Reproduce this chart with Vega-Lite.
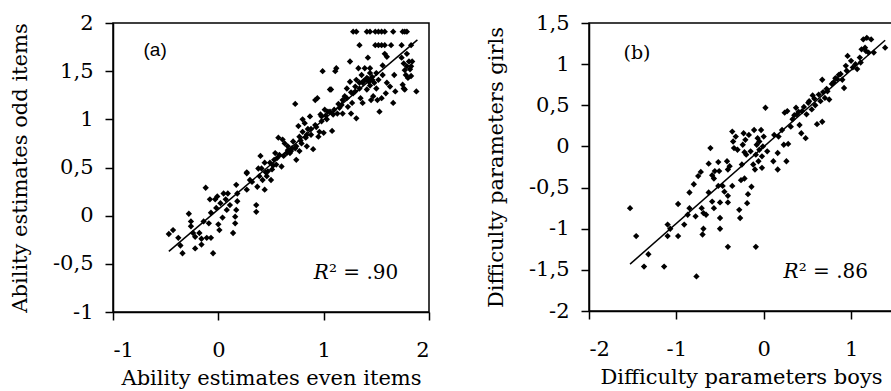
{
  "$schema": "https://vega.github.io/schema/vega-lite/v6.json",
  "padding": {"left": 8, "top": 11, "right": 0, "bottom": 0},
  "spacing": 53,
  "config": {
    "view": {"stroke": "black", "strokeWidth": 1.5},
    "font": "DejaVu Serif",
    "axis": {
      "grid": false,
      "domainColor": "black",
      "domainWidth": 1.5,
      "tickColor": "black",
      "tickWidth": 1.5,
      "tickSize": 8,
      "labelFont": "DejaVu Serif",
      "labelFontSize": 21,
      "labelColor": "black",
      "titleFont": "DejaVu Serif",
      "titleFontSize": 21,
      "titleFontWeight": "normal",
      "titleColor": "black",
      "labelExpr": "replace(toString(datum.value), '.', ',')"
    },
    "axisX": {"labelPadding": 19, "titlePadding": 7},
    "axisY": {"labelPadding": 12, "titlePadding": 22}
  },
  "datasets": {
    "a": [
      {"x": -0.47, "y": -0.19}, {"x": -0.43, "y": -0.15}, {"x": -0.38, "y": -0.23}, {"x": -0.36, "y": -0.31}, {"x": -0.34, "y": -0.39},
      {"x": -0.28, "y": 0.02}, {"x": -0.26, "y": -0.06}, {"x": -0.26, "y": -0.11}, {"x": -0.24, "y": -0.18}, {"x": -0.22, "y": -0.22},
      {"x": -0.22, "y": -0.34}, {"x": -0.18, "y": -0.18}, {"x": -0.16, "y": -0.30}, {"x": -0.16, "y": -0.24}, {"x": -0.14, "y": -0.06},
      {"x": -0.12, "y": 0.29}, {"x": -0.11, "y": -0.23}, {"x": -0.09, "y": -0.08}, {"x": -0.08, "y": 0.17}, {"x": -0.07, "y": 0.03},
      {"x": -0.07, "y": -0.23}, {"x": -0.05, "y": -0.39}, {"x": -0.03, "y": 0.17}, {"x": -0.02, "y": 0.08}, {"x": -0.01, "y": 0.20},
      {"x": 0.00, "y": -0.09}, {"x": 0.01, "y": -0.15}, {"x": 0.02, "y": 0.13}, {"x": 0.04, "y": -0.02}, {"x": 0.05, "y": 0.23},
      {"x": 0.07, "y": 0.17}, {"x": 0.08, "y": 0.06}, {"x": 0.09, "y": 0.23}, {"x": 0.11, "y": 0.11}, {"x": 0.14, "y": -0.18},
      {"x": 0.16, "y": -0.08}, {"x": 0.16, "y": -0.01}, {"x": 0.17, "y": 0.06}, {"x": 0.17, "y": 0.32}, {"x": 0.18, "y": 0.15},
      {"x": 0.18, "y": 0.23}, {"x": 0.27, "y": 0.27}, {"x": 0.27, "y": 0.45}, {"x": 0.27, "y": 0.44}, {"x": 0.30, "y": 0.37},
      {"x": 0.32, "y": 0.35}, {"x": 0.36, "y": 0.11}, {"x": 0.36, "y": 0.04}, {"x": 0.37, "y": 0.30}, {"x": 0.38, "y": 0.49},
      {"x": 0.39, "y": 0.41}, {"x": 0.40, "y": 0.62}, {"x": 0.41, "y": 0.49}, {"x": 0.42, "y": 0.37}, {"x": 0.44, "y": 0.27},
      {"x": 0.44, "y": 0.55}, {"x": 0.46, "y": 0.41}, {"x": 0.47, "y": 0.46}, {"x": 0.49, "y": 0.55}, {"x": 0.50, "y": 0.37},
      {"x": 0.51, "y": 0.48}, {"x": 0.53, "y": 0.58}, {"x": 0.54, "y": 0.65}, {"x": 0.55, "y": 0.53}, {"x": 0.57, "y": 0.81},
      {"x": 0.58, "y": 0.63}, {"x": 0.60, "y": 0.51}, {"x": 0.61, "y": 0.79}, {"x": 0.63, "y": 0.75}, {"x": 0.65, "y": 0.65},
      {"x": 0.66, "y": 0.72}, {"x": 0.68, "y": 0.65}, {"x": 0.69, "y": 0.67}, {"x": 0.71, "y": 0.77}, {"x": 0.73, "y": 1.16},
      {"x": 0.73, "y": 0.70}, {"x": 0.74, "y": 0.58}, {"x": 0.76, "y": 0.93}, {"x": 0.77, "y": 0.82}, {"x": 0.77, "y": 0.67},
      {"x": 0.79, "y": 0.75}, {"x": 0.80, "y": 1.00}, {"x": 0.80, "y": 0.87}, {"x": 0.82, "y": 0.96}, {"x": 0.83, "y": 0.81},
      {"x": 0.84, "y": 0.72}, {"x": 0.85, "y": 0.90}, {"x": 0.87, "y": 1.03}, {"x": 0.88, "y": 0.84}, {"x": 0.90, "y": 0.69},
      {"x": 0.92, "y": 1.20}, {"x": 0.92, "y": 0.94}, {"x": 0.94, "y": 1.22}, {"x": 0.95, "y": 0.82}, {"x": 0.96, "y": 0.87},
      {"x": 0.97, "y": 1.05}, {"x": 0.98, "y": 0.98}, {"x": 0.99, "y": 1.50}, {"x": 1.00, "y": 0.86}, {"x": 1.01, "y": 1.10},
      {"x": 1.03, "y": 1.00}, {"x": 1.04, "y": 1.08}, {"x": 1.06, "y": 1.31}, {"x": 1.07, "y": 1.31}, {"x": 1.08, "y": 0.88},
      {"x": 1.09, "y": 1.05}, {"x": 1.11, "y": 1.50}, {"x": 1.12, "y": 1.53}, {"x": 1.13, "y": 1.06}, {"x": 1.15, "y": 1.12},
      {"x": 1.17, "y": 1.15}, {"x": 1.18, "y": 1.06}, {"x": 1.20, "y": 1.24}, {"x": 1.22, "y": 1.32}, {"x": 1.23, "y": 1.13},
      {"x": 1.25, "y": 1.60}, {"x": 1.25, "y": 1.39}, {"x": 1.26, "y": 1.06}, {"x": 1.27, "y": 1.17}, {"x": 1.28, "y": 1.27},
      {"x": 1.30, "y": 1.29}, {"x": 1.31, "y": 1.41}, {"x": 1.31, "y": 1.01}, {"x": 1.33, "y": 1.53}, {"x": 1.34, "y": 1.32},
      {"x": 1.35, "y": 1.22}, {"x": 1.36, "y": 1.46}, {"x": 1.37, "y": 1.38}, {"x": 1.37, "y": 1.17}, {"x": 1.39, "y": 1.53},
      {"x": 1.40, "y": 1.41}, {"x": 1.41, "y": 1.31}, {"x": 1.41, "y": 1.43}, {"x": 1.42, "y": 1.64}, {"x": 1.43, "y": 1.39},
      {"x": 1.44, "y": 1.48}, {"x": 1.44, "y": 1.53}, {"x": 1.45, "y": 1.20}, {"x": 1.46, "y": 1.41}, {"x": 1.47, "y": 1.24},
      {"x": 1.50, "y": 1.48}, {"x": 1.50, "y": 1.32}, {"x": 1.51, "y": 1.20}, {"x": 1.52, "y": 1.41}, {"x": 1.53, "y": 1.08},
      {"x": 1.55, "y": 1.22}, {"x": 1.56, "y": 1.56}, {"x": 1.56, "y": 1.46}, {"x": 1.58, "y": 1.68}, {"x": 1.59, "y": 1.27},
      {"x": 1.60, "y": 1.38}, {"x": 1.60, "y": 1.65}, {"x": 1.63, "y": 1.34}, {"x": 1.66, "y": 1.17}, {"x": 1.67, "y": 1.46},
      {"x": 1.68, "y": 1.29}, {"x": 1.74, "y": 1.64}, {"x": 1.76, "y": 1.58}, {"x": 1.75, "y": 1.36}, {"x": 1.76, "y": 1.32},
      {"x": 1.77, "y": 1.31}, {"x": 1.77, "y": 1.51}, {"x": 1.78, "y": 1.46}, {"x": 1.79, "y": 1.68}, {"x": 1.79, "y": 1.55},
      {"x": 1.80, "y": 1.43}, {"x": 1.81, "y": 1.60}, {"x": 1.82, "y": 1.52}, {"x": 1.83, "y": 1.55}, {"x": 1.83, "y": 1.45},
      {"x": 1.84, "y": 1.60}, {"x": 1.88, "y": 1.29},
      {"x": 1.28, "y": 1.91}, {"x": 1.31, "y": 1.91}, {"x": 1.41, "y": 1.91}, {"x": 1.44, "y": 1.91}, {"x": 1.49, "y": 1.91},
      {"x": 1.52, "y": 1.91}, {"x": 1.55, "y": 1.91}, {"x": 1.58, "y": 1.91}, {"x": 1.66, "y": 1.91}, {"x": 1.75, "y": 1.91},
      {"x": 1.77, "y": 1.91}, {"x": 1.79, "y": 1.91},
      {"x": 1.34, "y": 1.77}, {"x": 1.49, "y": 1.77}, {"x": 1.52, "y": 1.77}, {"x": 1.55, "y": 1.77}, {"x": 1.58, "y": 1.77},
      {"x": 1.64, "y": 1.77}, {"x": 1.74, "y": 1.77}, {"x": 1.83, "y": 1.77},
      {"x": 0.45, "y": 0.45}, {"x": 0.52, "y": 0.52}, {"x": 0.56, "y": 0.60}, {"x": 0.62, "y": 0.62}, {"x": 0.66, "y": 0.68},
      {"x": 0.70, "y": 0.70}, {"x": 0.74, "y": 0.72}, {"x": 0.78, "y": 0.78}, {"x": 0.84, "y": 0.84}, {"x": 0.88, "y": 0.90},
      {"x": 0.93, "y": 0.92}, {"x": 0.98, "y": 1.03}, {"x": 1.02, "y": 1.04}, {"x": 1.06, "y": 1.08}, {"x": 1.10, "y": 1.10},
      {"x": 1.14, "y": 1.16}, {"x": 1.18, "y": 1.20}, {"x": 1.22, "y": 1.22}, {"x": 1.26, "y": 1.28}, {"x": 1.30, "y": 1.34},
      {"x": 1.34, "y": 1.38}, {"x": 1.38, "y": 1.40}, {"x": 1.42, "y": 1.42}, {"x": 1.46, "y": 1.44}, {"x": 1.48, "y": 1.38},
      {"x": 1.44, "y": 1.35}
    ],
    "aline": [{"x": -0.47, "y": -0.37}, {"x": 1.89, "y": 1.825}],
    "b": [
      {"x": -1.53, "y": -0.75}, {"x": -1.46, "y": -1.09}, {"x": -1.32, "y": -1.31}, {"x": -1.37, "y": -1.46}, {"x": -1.14, "y": -1.46},
      {"x": -1.10, "y": -0.95}, {"x": -1.10, "y": -1.09}, {"x": -1.07, "y": -1.00}, {"x": -0.98, "y": -0.70}, {"x": -0.98, "y": -1.09},
      {"x": -0.91, "y": -0.95}, {"x": -0.87, "y": -0.83}, {"x": -0.85, "y": -0.75}, {"x": -0.85, "y": -0.56}, {"x": -0.80, "y": -0.46},
      {"x": -0.78, "y": -0.85}, {"x": -0.77, "y": -1.58}, {"x": -0.75, "y": -0.36}, {"x": -0.72, "y": -0.31}, {"x": -0.71, "y": -0.75},
      {"x": -0.69, "y": -0.81}, {"x": -0.69, "y": -1.00}, {"x": -0.70, "y": -1.07}, {"x": -0.66, "y": -0.83}, {"x": -0.63, "y": -0.21},
      {"x": -0.63, "y": -0.56}, {"x": -0.61, "y": -0.02}, {"x": -0.59, "y": -0.67}, {"x": -0.59, "y": -0.35}, {"x": -0.57, "y": -0.39},
      {"x": -0.57, "y": -0.75}, {"x": -0.56, "y": -0.30}, {"x": -0.52, "y": -0.19}, {"x": -0.52, "y": -0.48}, {"x": -0.51, "y": -0.30},
      {"x": -0.50, "y": -0.87}, {"x": -0.50, "y": -1.00}, {"x": -0.50, "y": -0.68}, {"x": -0.47, "y": -0.48}, {"x": -0.45, "y": -0.55},
      {"x": -0.42, "y": -0.18}, {"x": -0.41, "y": -0.28}, {"x": -0.41, "y": -0.60}, {"x": -0.41, "y": -1.22}, {"x": -0.41, "y": -0.68},
      {"x": -0.39, "y": -0.24}, {"x": -0.36, "y": -0.48}, {"x": -0.36, "y": 0.18}, {"x": -0.35, "y": 0.06}, {"x": -0.34, "y": -0.02},
      {"x": -0.32, "y": 0.12}, {"x": -0.30, "y": -0.04}, {"x": -0.28, "y": -0.77}, {"x": -0.27, "y": -0.87}, {"x": -0.26, "y": -0.41},
      {"x": -0.25, "y": -0.22}, {"x": -0.24, "y": 0.02}, {"x": -0.23, "y": 0.16}, {"x": -0.22, "y": -0.07}, {"x": -0.22, "y": -0.39},
      {"x": -0.21, "y": 0.08}, {"x": -0.20, "y": -0.10}, {"x": -0.19, "y": -0.69}, {"x": -0.18, "y": -0.58}, {"x": -0.17, "y": 0.14},
      {"x": -0.15, "y": -0.06}, {"x": -0.14, "y": -0.49}, {"x": -0.12, "y": -0.22}, {"x": -0.11, "y": 0.20}, {"x": -0.10, "y": -0.28},
      {"x": -0.09, "y": -1.22}, {"x": -0.09, "y": -0.10}, {"x": -0.08, "y": 0.02}, {"x": -0.07, "y": 0.10}, {"x": -0.06, "y": -0.18},
      {"x": -0.05, "y": -0.04}, {"x": -0.05, "y": 0.06}, {"x": -0.03, "y": 0.20}, {"x": -0.02, "y": -0.26}, {"x": -0.02, "y": -0.12},
      {"x": -0.01, "y": 0.00}, {"x": 0.00, "y": 0.12}, {"x": 0.02, "y": 0.47}, {"x": 0.04, "y": -0.06}, {"x": 0.11, "y": -0.18},
      {"x": 0.12, "y": 0.14}, {"x": 0.16, "y": -0.08}, {"x": 0.16, "y": -0.28}, {"x": 0.17, "y": 0.12}, {"x": 0.21, "y": 0.20},
      {"x": 0.23, "y": 0.02}, {"x": 0.24, "y": 0.41}, {"x": 0.26, "y": -0.18}, {"x": 0.27, "y": 0.43}, {"x": 0.28, "y": 0.03},
      {"x": 0.31, "y": 0.24}, {"x": 0.33, "y": 0.33}, {"x": 0.37, "y": 0.47}, {"x": 0.38, "y": 0.39}, {"x": 0.41, "y": 0.26},
      {"x": 0.43, "y": 0.16}, {"x": 0.44, "y": 0.43}, {"x": 0.48, "y": 0.10}, {"x": 0.49, "y": 0.39}, {"x": 0.51, "y": 0.53},
      {"x": 0.55, "y": 0.45}, {"x": 0.56, "y": 0.62}, {"x": 0.59, "y": 0.50}, {"x": 0.61, "y": 0.27}, {"x": 0.65, "y": 0.55},
      {"x": 0.67, "y": 0.81}, {"x": 0.67, "y": 0.30}, {"x": 0.70, "y": 0.59}, {"x": 0.73, "y": 0.67}, {"x": 0.75, "y": 0.57},
      {"x": 0.78, "y": 0.76}, {"x": 0.82, "y": 0.83}, {"x": 0.86, "y": 0.87}, {"x": 0.90, "y": 0.81}, {"x": 0.92, "y": 0.71},
      {"x": 0.94, "y": 0.98}, {"x": 0.96, "y": 1.10}, {"x": 1.00, "y": 1.04}, {"x": 1.02, "y": 0.96}, {"x": 1.07, "y": 0.94},
      {"x": 1.11, "y": 1.02}, {"x": 1.12, "y": 1.18}, {"x": 1.14, "y": 1.30}, {"x": 1.16, "y": 1.20}, {"x": 1.18, "y": 1.32},
      {"x": 1.20, "y": 1.14}, {"x": 1.23, "y": 1.30}, {"x": 1.26, "y": 1.14}, {"x": 1.39, "y": 1.20},
      {"x": 0.35, "y": 0.38}, {"x": 0.40, "y": 0.42}, {"x": 0.46, "y": 0.48}, {"x": 0.52, "y": 0.55}, {"x": 0.58, "y": 0.58},
      {"x": 0.63, "y": 0.63}, {"x": 0.68, "y": 0.66}, {"x": 0.72, "y": 0.70}, {"x": 0.80, "y": 0.78}, {"x": 0.84, "y": 0.82},
      {"x": 0.88, "y": 0.88}, {"x": 0.95, "y": 0.92}, {"x": 1.05, "y": 1.00}, {"x": 1.10, "y": 1.08}, {"x": 1.17, "y": 1.16}
    ],
    "bline": [{"x": -1.53, "y": -1.43}, {"x": 1.39, "y": 1.29}]
  },
  "hconcat": [
    {
      "width": 316,
      "height": 289,
      "layer": [
        {
          "data": {"name": "a"},
          "mark": {"type": "point", "shape": "diamond", "filled": true, "color": "black", "size": 40, "opacity": 1},
          "encoding": {
            "x": {"field": "x", "type": "quantitative", "scale": {"domain": [-1, 2], "nice": false},
                  "axis": {"values": [-1, 0, 1, 2], "title": "Ability estimates even items"}},
            "y": {"field": "y", "type": "quantitative", "scale": {"domain": [-1, 2], "nice": false},
                  "axis": {"values": [-1, -0.5, 0, 0.5, 1, 1.5, 2], "title": "Ability estimates odd items"}}
          }
        },
        {
          "data": {"name": "aline"},
          "mark": {"type": "line", "color": "black", "strokeWidth": 1.5},
          "encoding": {"x": {"field": "x", "type": "quantitative"}, "y": {"field": "y", "type": "quantitative"}}
        },
        {
          "data": {"values": [{"x": -0.6, "y": 1.72, "t": "(a)"}]},
          "mark": {"type": "text", "font": "Liberation Sans", "fontSize": 19, "align": "center", "baseline": "middle", "color": "black"},
          "encoding": {"x": {"field": "x", "type": "quantitative"}, "y": {"field": "y", "type": "quantitative"}, "text": {"field": "t"}}
        },
        {
          "data": {"values": [{"x": 1.05, "y": -0.6, "t": "R"}]},
          "mark": {"type": "text", "font": "DejaVu Serif", "fontStyle": "italic", "fontSize": 20, "align": "right", "baseline": "middle", "color": "black"},
          "encoding": {"x": {"field": "x", "type": "quantitative"}, "y": {"field": "y", "type": "quantitative"}, "text": {"field": "t"}}
        },
        {
          "data": {"values": [{"x": 1.05, "y": -0.6, "t": "² = .90"}]},
          "mark": {"type": "text", "font": "DejaVu Serif", "fontSize": 20, "align": "left", "baseline": "middle", "color": "black"},
          "encoding": {"x": {"field": "x", "type": "quantitative"}, "y": {"field": "y", "type": "quantitative"}, "text": {"field": "t"}}
        }
      ]
    },
    {
      "width": 304,
      "height": 288,
      "layer": [
        {
          "data": {"name": "b"},
          "mark": {"type": "point", "shape": "diamond", "filled": true, "color": "black", "size": 40, "opacity": 1},
          "encoding": {
            "x": {"field": "x", "type": "quantitative", "scale": {"domain": [-2, 1.48], "nice": false},
                  "axis": {"values": [-2, -1, 0, 1], "title": "Difficulty parameters boys"}},
            "y": {"field": "y", "type": "quantitative", "scale": {"domain": [-2, 1.5], "nice": false},
                  "axis": {"values": [-2, -1.5, -1, -0.5, 0, 0.5, 1, 1.5], "title": "Difficulty parameters girls"}}
          }
        },
        {
          "data": {"name": "bline"},
          "mark": {"type": "line", "color": "black", "strokeWidth": 1.5},
          "encoding": {"x": {"field": "x", "type": "quantitative"}, "y": {"field": "y", "type": "quantitative"}}
        },
        {
          "data": {"values": [{"x": -1.45, "y": 1.14, "t": "(b)"}]},
          "mark": {"type": "text", "font": "DejaVu Serif", "fontSize": 19, "align": "center", "baseline": "middle", "color": "black"},
          "encoding": {"x": {"field": "x", "type": "quantitative"}, "y": {"field": "y", "type": "quantitative"}, "text": {"field": "t"}}
        },
        {
          "data": {"values": [{"x": 0.40, "y": -1.53, "t": "R"}]},
          "mark": {"type": "text", "font": "DejaVu Serif", "fontStyle": "italic", "fontSize": 20, "align": "right", "baseline": "middle", "color": "black"},
          "encoding": {"x": {"field": "x", "type": "quantitative"}, "y": {"field": "y", "type": "quantitative"}, "text": {"field": "t"}}
        },
        {
          "data": {"values": [{"x": 0.40, "y": -1.53, "t": "² = .86"}]},
          "mark": {"type": "text", "font": "DejaVu Serif", "fontSize": 20, "align": "left", "baseline": "middle", "color": "black"},
          "encoding": {"x": {"field": "x", "type": "quantitative"}, "y": {"field": "y", "type": "quantitative"}, "text": {"field": "t"}}
        }
      ]
    }
  ]
}
